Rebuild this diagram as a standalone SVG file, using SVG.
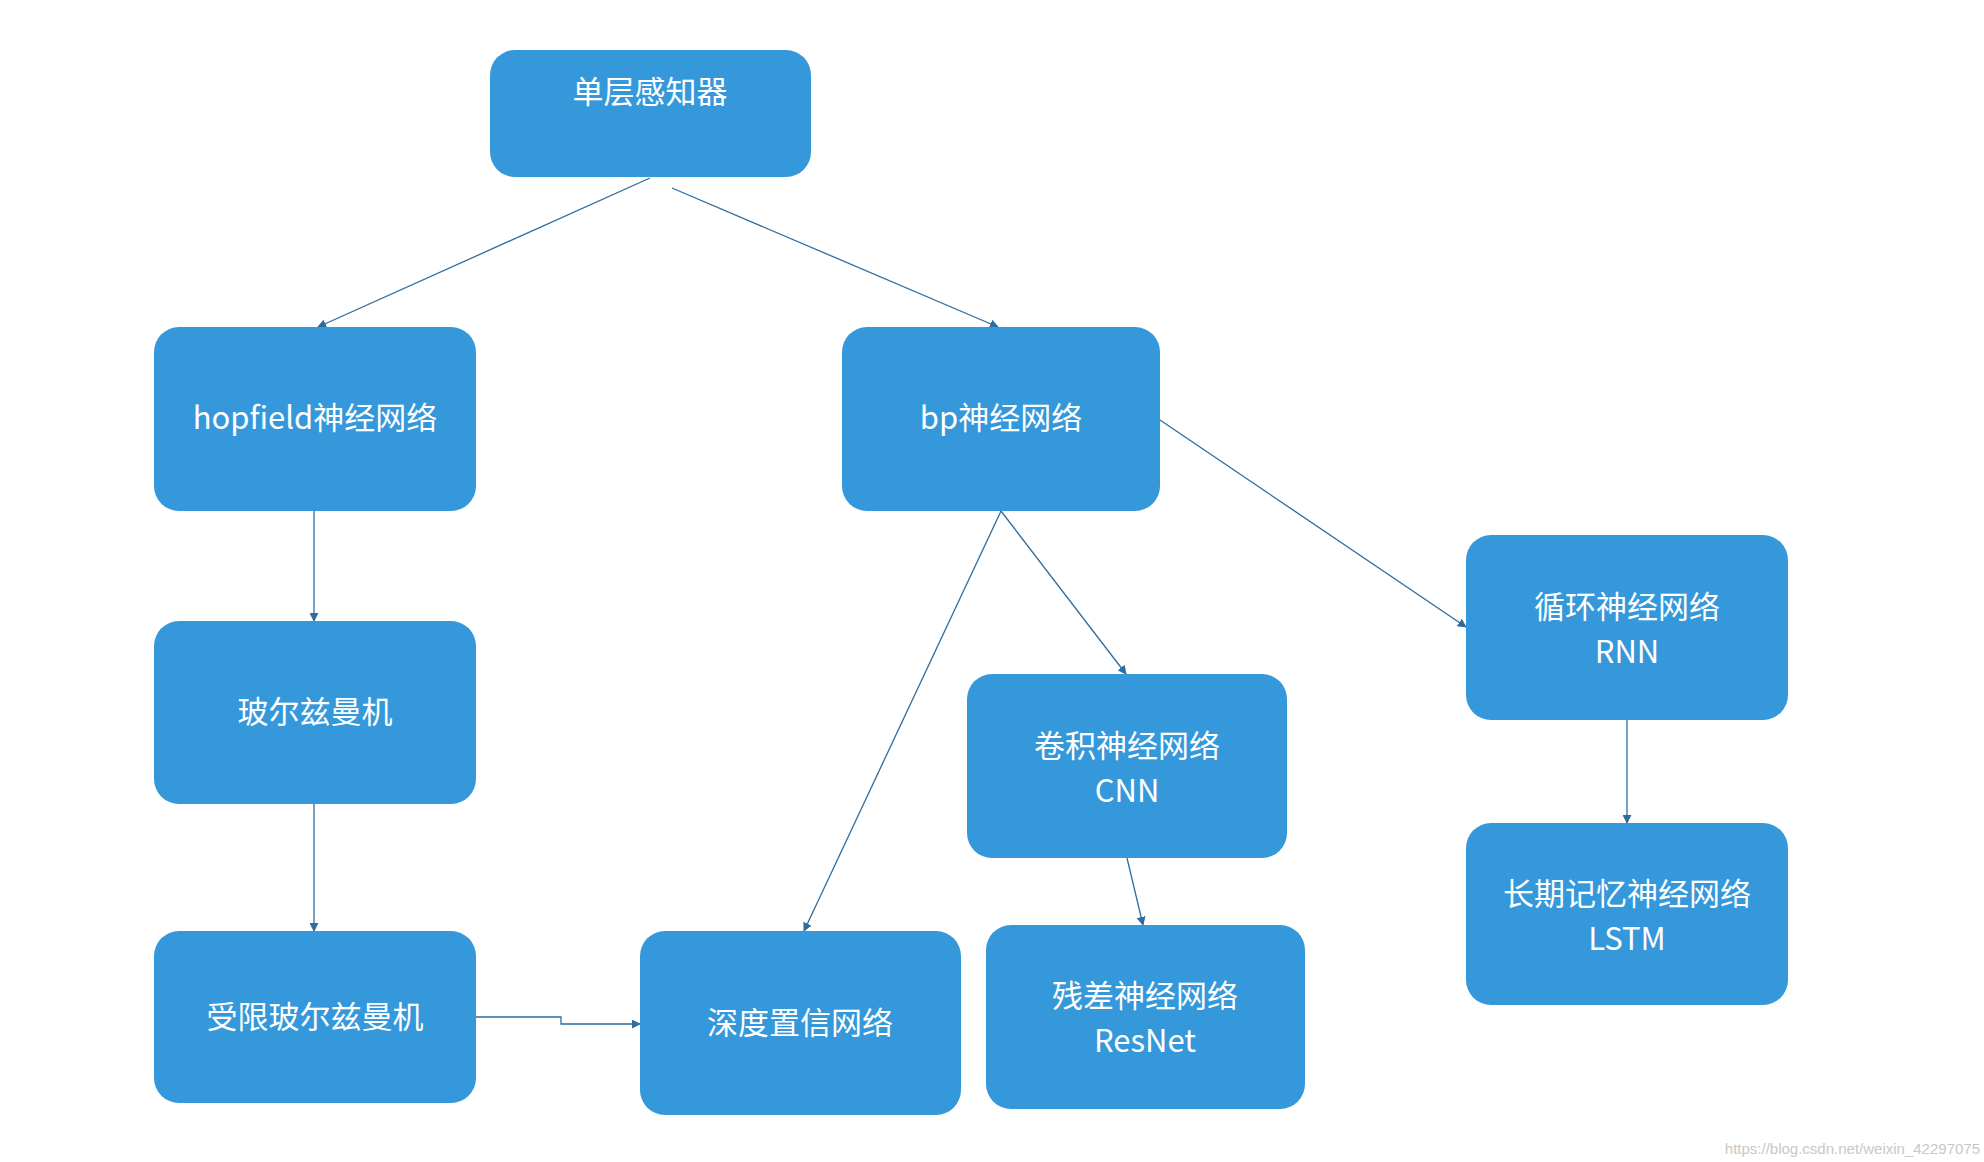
<svg xmlns="http://www.w3.org/2000/svg" width="1984" height="1162" viewBox="0 0 1984 1162">
<style>
.n rect{fill:#3598db}
.n text{fill:#fff;font-family:"Noto Sans CJK SC","Noto Sans",sans-serif;font-size:31px;text-anchor:middle}
.c{stroke:#2e6c9e;stroke-width:1.3;fill:none;marker-end:url(#a)}
</style>
<defs><marker id="a" viewBox="0 0 10 10" refX="9" refY="5" markerWidth="9" markerHeight="9" markerUnits="userSpaceOnUse" orient="auto"><path d="M0,0L10,5L0,10z" fill="#2e6c9e"/></marker></defs>
<rect width="1984" height="1162" fill="#fff"/>
<g id="connectors">
<path class="c" d="M650,178L318,327"/>
<path class="c" d="M672,188L998,327"/>
<path class="c" d="M314,511L314,621"/>
<path class="c" d="M314,804L314,931"/>
<path class="c" d="M1001,511L804,931"/>
<path class="c" d="M1001,511L1126,674"/>
<path class="c" d="M1160,420L1466,627"/>
<path class="c" d="M1627,720L1627,823"/>
<path class="c" d="M1127,858L1143,925"/>
<path class="c" d="M476,1017L561,1017L561,1024L640,1024"/>
</g>
<g id="n1" class="n"><rect x="490" y="50" width="321" height="127" rx="25"/><text x="650" y="103">单层感知器</text></g>
<g id="n2" class="n"><rect x="154" y="327" width="322" height="184" rx="25"/><text x="315" y="429">hopfield神经网络</text></g>
<g id="n3" class="n"><rect x="842" y="327" width="318" height="184" rx="25"/><text x="1001" y="429">bp神经网络</text></g>
<g id="n4" class="n"><rect x="1466" y="535" width="322" height="185" rx="25"/><text x="1627" y="618">循环神经网络</text><text x="1627" y="663">RNN</text></g>
<g id="n5" class="n"><rect x="154" y="621" width="322" height="183" rx="25"/><text x="315" y="723">玻尔兹曼机</text></g>
<g id="n6" class="n"><rect x="967" y="674" width="320" height="184" rx="25"/><text x="1127" y="757">卷积神经网络</text><text x="1127" y="802">CNN</text></g>
<g id="n7" class="n"><rect x="1466" y="823" width="322" height="182" rx="25"/><text x="1627" y="905">长期记忆神经网络</text><text x="1627" y="950">LSTM</text></g>
<g id="n8" class="n"><rect x="154" y="931" width="322" height="172" rx="25"/><text x="315" y="1028">受限玻尔兹曼机</text></g>
<g id="n9" class="n"><rect x="640" y="931" width="321" height="184" rx="25"/><text x="800" y="1034">深度置信网络</text></g>
<g id="n10" class="n"><rect x="986" y="925" width="319" height="184" rx="25"/><text x="1145" y="1007">残差神经网络</text><text x="1145" y="1052">ResNet</text></g>
<text x="1980" y="1154" font-family="Liberation Sans,sans-serif" font-size="15" fill="#c8c8c8" text-anchor="end">https://blog.csdn.net/weixin_42297075</text>
</svg>
